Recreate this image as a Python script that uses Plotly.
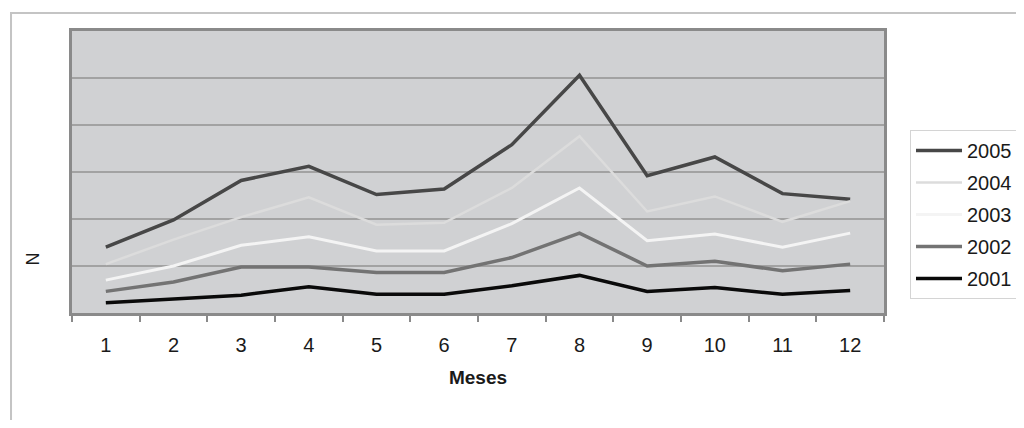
import plotly.graph_objects as go

meses = ["1", "2", "3", "4", "5", "6", "7", "8", "9", "10", "11", "12"]
anos = ["2005", "2004", "2003", "2002", "2001"]
n_2005 = [70, 99, 141, 156, 126, 132, 179, 253, 146, 166, 127, 121]
n_2004 = [52, 78, 102, 123, 94, 96, 133, 188, 108, 124, 97, 119]
n_2003 = [35, 50, 72, 81, 66, 66, 95, 133, 77, 84, 70, 85]
n_2002 = [23, 33, 49, 49, 43, 43, 59, 85, 50, 55, 45, 52]
n_2001 = [11, 15, 19, 28, 20, 20, 29, 40, 23, 27, 20, 24]
series = [n_2005, n_2004, n_2003, n_2002, n_2001]
colors = ["#474747", "#dcdcdc", "#f4f4f4", "#737373", "#0a0a0a"]
widths = [3.5, 2.5, 3, 3.5, 3.5]

FONT = "Liberation Sans, Arial, sans-serif"

fig = go.Figure()
for ano, vals, c, w in zip(anos, series, colors, widths):
    fig.add_trace(go.Scatter(
        x=meses, y=vals, name=ano, mode="lines", legendgroup=ano,
        line=dict(color=c, width=w),
    ))

fig.update_layout(
    width=1016, height=412,
    margin=dict(l=64, r=140, t=23, b=107, autoexpand=False),
    paper_bgcolor="white",
    plot_bgcolor="#d0d1d3",
    font=dict(family=FONT, size=20, color="#1a1a1a"),
    showlegend=True,
    legend=dict(
        xref="container", yref="container",
        x=902 / 1016, y=1 - (122 / 412), xanchor="left", yanchor="top",
        bgcolor="white", bordercolor="#d4d4d4", borderwidth=1,
        font=dict(family=FONT, size=20, color="#1a1a1a"),
        traceorder="grouped", tracegroupgap=3,
        itemwidth=46,
    ),
    xaxis=dict(
        type="category", tickson="boundaries", ticks="outside",
        range=[-0.5, 11.5],
        ticklen=6, tickcolor="#8a8a8a", tickwidth=1.5,
        ticklabelstandoff=12,
        showgrid=False, showline=True, linecolor="#8a8a8a",
        linewidth=3, mirror=True,
        tickfont=dict(family=FONT, size=20, color="#1a1a1a"),
        title=dict(text="<b>Meses</b>", standoff=16,
                   font=dict(family=FONT, size=19, color="#1a1a1a")),
    ),
    yaxis=dict(
        range=[0, 300], dtick=50, showticklabels=False, ticks="",
        showgrid=True, gridcolor="#a2a2a2", gridwidth=1.5,
        showline=True, linecolor="#8a8a8a", linewidth=3, mirror=True,
        zeroline=False,
    ),
    shapes=[dict(
        type="rect", xref="paper", yref="paper",
        x0=-0.0751, y0=-0.6, x1=1.2, y1=1.0638,
        line=dict(color="#c4c4c4", width=2), fillcolor="rgba(0,0,0,0)",
        layer="below",
    )],
    annotations=[dict(
        text="N", xref="paper", yref="paper",
        x=-0.048, y=0.19, xanchor="center", yanchor="middle",
        showarrow=False, textangle=-90,
        font=dict(family=FONT, size=18, color="#1a1a1a"),
    )],
)

fig.write_html("out.html")
